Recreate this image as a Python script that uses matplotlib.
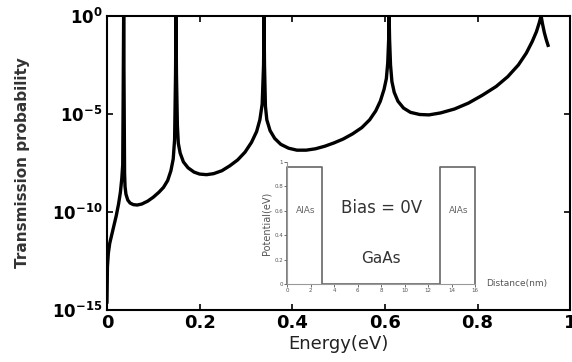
import numpy as np
import matplotlib.pyplot as plt
from matplotlib.ticker import FixedLocator, FuncFormatter
plt.switch_backend('agg')

# transmission curve (energy in eV, log10 of T)
energy = [0.000, 0.001, 0.003, 0.006, 0.010, 0.015, 0.020, 0.025, 0.029, 0.032,
          0.034, 0.035, 0.036, 0.037, 0.038, 0.039, 0.041, 0.045, 0.050, 0.057,
          0.065, 0.075, 0.088, 0.100, 0.112, 0.122, 0.131, 0.138, 0.143, 0.146,
          0.148, 0.149, 0.150, 0.152, 0.154, 0.158, 0.165, 0.175, 0.188, 0.200,
          0.215, 0.230, 0.248, 0.265, 0.282, 0.298, 0.312, 0.323, 0.330, 0.335,
          0.338, 0.339, 0.340, 0.342, 0.345, 0.352, 0.362, 0.375, 0.392, 0.410,
          0.430, 0.450, 0.470, 0.490, 0.510, 0.530, 0.550, 0.567, 0.580, 0.590,
          0.598, 0.603, 0.606, 0.608, 0.609, 0.610, 0.612, 0.615, 0.620, 0.628,
          0.640, 0.655, 0.675, 0.695, 0.720, 0.750, 0.780, 0.810, 0.840, 0.865,
          0.888, 0.905, 0.918, 0.927, 0.933, 0.937, 0.940, 0.944, 0.948, 0.952]
log_t = [-14.6, -12.8, -12.1, -11.6, -11.2, -10.7, -10.2, -9.6, -9.0, -8.3,
         -7.6, -4.0, 0.0, -4.0, -8.0, -8.7, -9.1, -9.4, -9.55, -9.63,
         -9.65, -9.6, -9.45, -9.25, -9.0, -8.75, -8.4, -7.9, -7.3, -6.3,
         -3.0, 0.0, -3.0, -5.6, -6.5, -7.0, -7.45, -7.75, -7.97, -8.07,
         -8.1, -8.05, -7.9, -7.65, -7.35, -6.95, -6.45, -5.9, -5.3, -4.5,
         -2.5, 0.0, -2.5, -4.6, -5.3, -5.85, -6.25, -6.55, -6.75, -6.85,
         -6.85, -6.78, -6.65, -6.48, -6.28, -6.02, -5.7, -5.3, -4.85, -4.35,
         -3.75, -3.2, -2.4, -1.2, 0.0, -1.2, -2.5, -3.35, -3.9, -4.35,
         -4.7, -4.92, -5.03, -5.05, -4.95, -4.75, -4.45, -4.05, -3.6, -3.1,
         -2.5, -1.9, -1.3, -0.8, -0.35, 0.0, -0.4, -0.85, -1.2, -1.5]

# double barrier potential profile for the inset
dist = [0, 0, 3, 3, 13, 13, 16, 16]
potential = [0, 0.96, 0.96, 0, 0, 0.96, 0.96, 0]

xticks = [0, 0.2, 0.4, 0.6, 0.8, 1]
xticklabels = ['0', '0.2', '0.4', '0.6', '0.8', '1']
ydecades = [-15, -10, -5, 0]


def bold_pow(v, pos):
    e = int(round(np.log10(v)))
    return r'$\mathbf{10^{%d}}$' % e


fig = plt.figure(figsize=(5.72, 3.62), dpi=100)
ax = fig.add_axes([0.187, 0.144, 0.810, 0.812])
ax.plot(energy, 10.0 ** np.array(log_t), color='black', lw=2.4)
ax.set_yscale('log')
ax.set_xlim(0, 1)
ax.set_ylim(1e-15, 1)
ax.xaxis.set_major_locator(FixedLocator(xticks))
ax.set_xticklabels(xticklabels, fontsize=13, fontweight='bold')
ax.yaxis.set_major_locator(FixedLocator([10.0 ** d for d in ydecades]))
ax.yaxis.set_minor_locator(FixedLocator([]))
ax.yaxis.set_major_formatter(FuncFormatter(bold_pow))
ax.tick_params(axis='y', labelsize=12)
ax.tick_params(direction='in', length=4, width=1.2, top=True, right=True, pad=3)
for s in ax.spines.values():
    s.set_linewidth(1.5)
ax.set_xlabel('Energy(eV)', fontsize=13, color='#222222', labelpad=2)
ax.set_ylabel('Transmission probability', fontsize=11, fontweight='bold',
              color='#333333', labelpad=16)

# inset
ins = fig.add_axes([0.502, 0.2155, 0.329, 0.337])
ins.plot(dist, potential, color='#666666', lw=1.2, clip_on=False)
ins.set_xlim(0, 16)
ins.set_ylim(0, 1)
ins.set_xticks(range(0, 17, 2))
ins.set_yticks([0, 0.2, 0.4, 0.6, 0.8, 1])
ins.set_yticklabels(['0', '0.2', '0.4', '0.6', '0.8', '1'])
ins.tick_params(labelsize=4, length=2, width=0.6, pad=1, colors='#555555')
ins.spines['top'].set_visible(False)
ins.spines['right'].set_visible(False)
for s in ['left', 'bottom']:
    ins.spines[s].set_color('#999999')
    ins.spines[s].set_linewidth(0.8)
ins.set_ylabel('Potential(eV)', fontsize=7, color='#555555', labelpad=2)
ins.text(1.55, 0.6, 'AlAs', fontsize=6.5, color='#666666', ha='center', va='center')
ins.text(14.55, 0.6, 'AlAs', fontsize=6.5, color='#666666', ha='center', va='center')
ins.text(8.0, 0.62, 'Bias = 0V', fontsize=12, color='#333333', ha='center', va='center')
ins.text(8.0, 0.21, 'GaAs', fontsize=11, color='#333333', ha='center', va='center')
ins.text(16.9, 0.0, 'Distance(nm)', fontsize=6.5, color='#555555', ha='left', va='center')

fig.savefig('out.png', dpi=100)
plt.close('all')
